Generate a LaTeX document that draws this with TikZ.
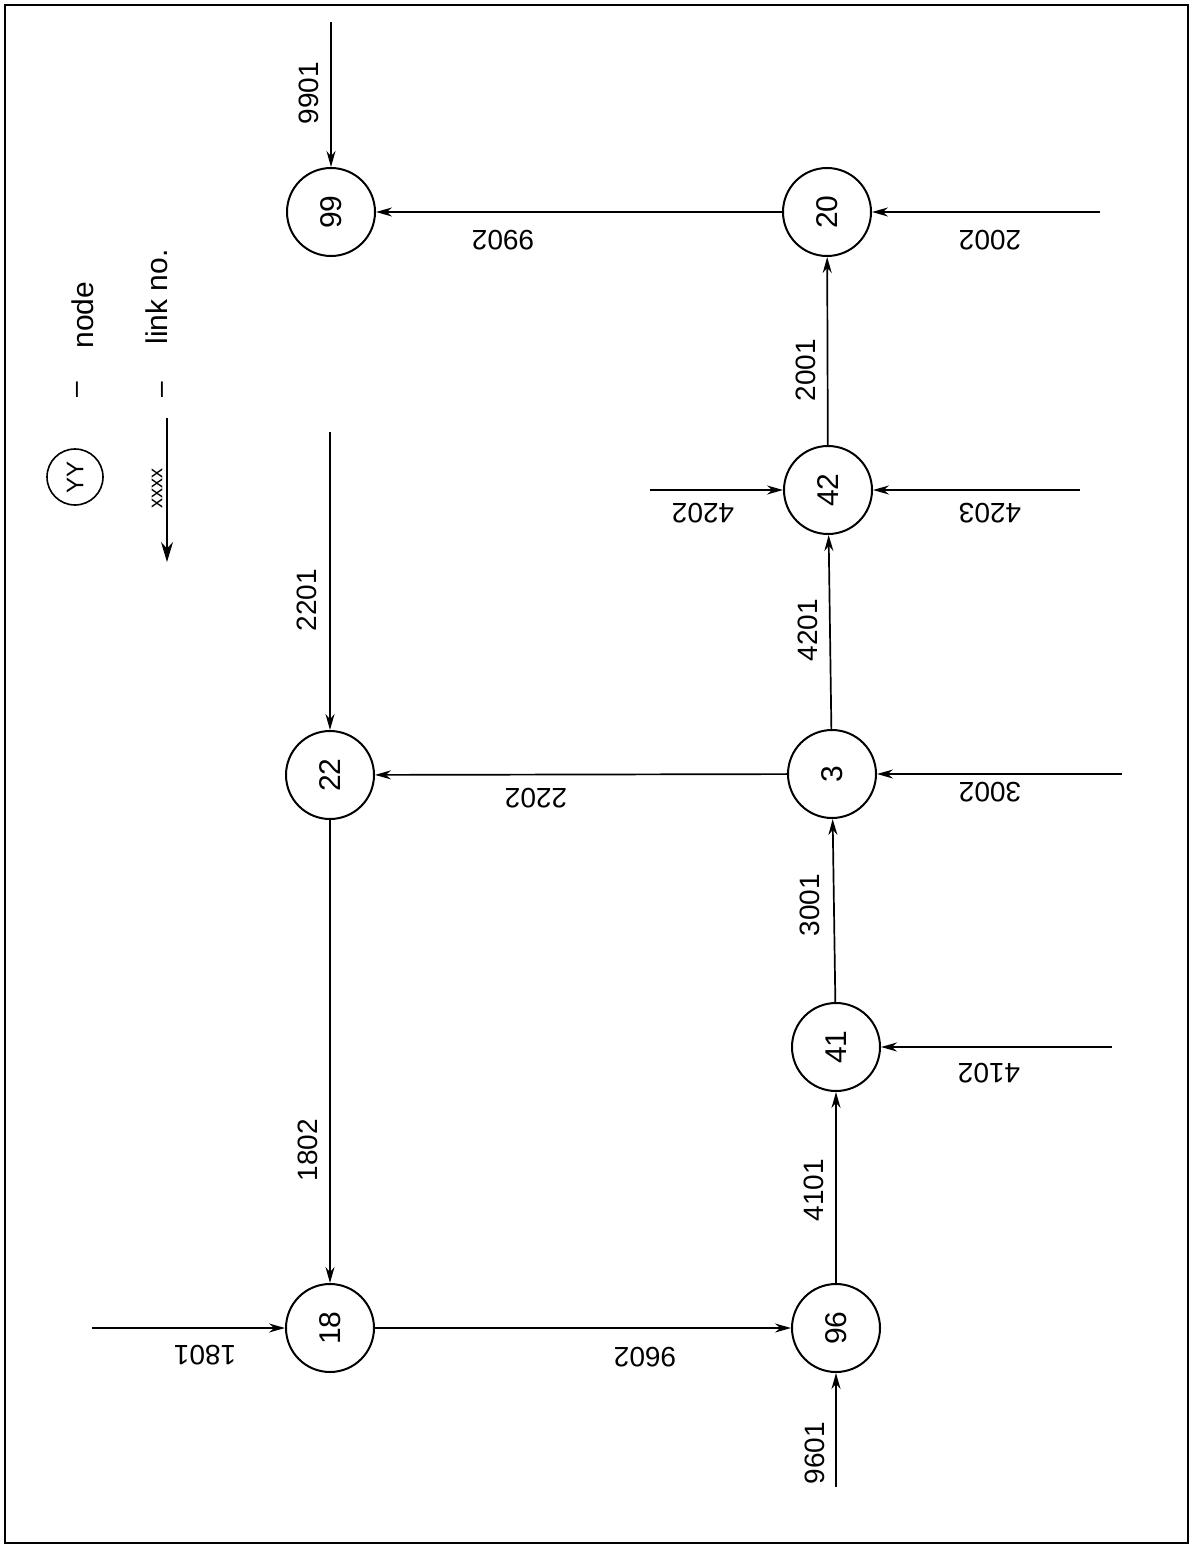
\documentclass[tikz,border=0pt]{standalone}
\usepackage{graphicx}
\usepackage{fontspec}
\setmainfont{Liberation Sans}
\usetikzlibrary{arrows.meta}
\tikzset{
  nd/.style={circle,draw,line width=2pt,minimum size=88pt,inner sep=0pt,font=\fontsize{30}{32}\selectfont},
  lnk/.style={line width=1.7pt,-{Stealth[length=16pt,width=9pt]}},
  lab/.style={inner sep=0pt,font=\fontsize{28}{30}\selectfont},
  vlab/.style={lab,rotate=90},
  hlab/.style={lab,rotate=180}
}
\newcommand{\rt}[1]{\rotatebox{90}{#1}}
\begin{document}
\begin{tikzpicture}[x=1pt,y=-1pt]
\useasboundingbox (0,0) rectangle (1193,1546);
\draw[line width=2pt] (5,5) rectangle (1188,1543);
% legend
\node[circle,draw,line width=1.6pt,minimum size=56pt,inner sep=0pt,font=\fontsize{24}{26}\selectfont] (leg) at (75,477) {\rt{YY}};
\node[lab,rotate=90] (legd1) at (80,390) {–};
\node[lab,rotate=90,font=\fontsize{30}{32}\selectfont] (legnode) at (83,315) {node};
\coordinate (la) at (167,418);
\coordinate (lb) at (167,562);
\draw[line width=1.7pt,-{Stealth[length=20pt,width=12pt]}] (la) -- (lb);
\node[lab,rotate=90,font=\fontsize{20}{22}\selectfont] (lx) at (157,488) {xxxx};
\node[lab,rotate=90] (legd2) at (165,390) {–};
\node[lab,rotate=90,font=\fontsize{30}{32}\selectfont] (leglink) at (157,297) {link no.};
% nodes
\node[nd] (n99) at (331,212) {\rt{99}};
\node[nd] (n20) at (827,212) {\rt{20}};
\node[nd] (n42) at (828,490) {\rt{42}};
\node[nd] (n22) at (330,775) {\rt{22}};
\node[nd] (n3)  at (832,774) {\rt{3}};
\node[nd] (n41) at (836,1047) {\rt{41}};
\node[nd] (n18) at (330,1328) {\rt{18}};
\node[nd] (n96) at (836,1328) {\rt{96}};
% external ends
\coordinate (e9901) at (331,22);
\coordinate (e2002) at (1100,212);
\coordinate (e4202) at (650,490);
\coordinate (e4203) at (1080,490);
\coordinate (e3002) at (1122,774);
\coordinate (e2201) at (330,432);
\coordinate (e4102) at (1112,1047);
\coordinate (e1801) at (92,1328);
\coordinate (e9601) at (836,1487);
% links
\draw[lnk] (e9901) -- (n99);
\draw[lnk] (n20) -- (n99);
\draw[lnk] (e2002) -- (n20);
\draw[lnk] (n42) -- (n20);
\draw[lnk] (e4202) -- (n42);
\draw[lnk] (e4203) -- (n42);
\draw[lnk] (n3) -- (n42);
\draw[lnk] (n3) -- (n22);
\draw[lnk] (e3002) -- (n3);
\draw[lnk] (e2201) -- (n22);
\draw[lnk] (n22) -- (n18);
\draw[lnk] (n41) -- (n3);
\draw[lnk] (e4102) -- (n41);
\draw[lnk] (n96) -- (n41);
\draw[lnk] (n18) -- (n96);
\draw[lnk] (e1801) -- (n18);
\draw[lnk] (e9601) -- (n96);
% link labels
\node[vlab] (l9901) at (309,93) {9901};
\node[hlab] (l9902) at (503,240) {9902};
\node[hlab] (l2002) at (990,240) {2002};
\node[vlab] (l2001) at (806,370) {2001};
\node[hlab] (l4202) at (703,513) {4202};
\node[hlab] (l4203) at (990,513) {4203};
\node[vlab] (l4201) at (808,630) {4201};
\node[hlab] (l2202) at (536,798) {2202};
\node[hlab] (l3002) at (990,792) {3002};
\node[vlab] (l2201) at (307,600) {2201};
\node[vlab] (l1802) at (308,1150) {1802};
\node[vlab] (l3001) at (810,905) {3001};
\node[hlab] (l4102) at (989,1073) {4102};
\node[vlab] (l4101) at (814,1190) {4101};
\node[hlab] (l9602) at (645,1357) {9602};
\node[hlab] (l1801) at (205,1355) {1801};
\node[vlab] (l9601) at (815,1453) {9601};
\end{tikzpicture}
\end{document}
